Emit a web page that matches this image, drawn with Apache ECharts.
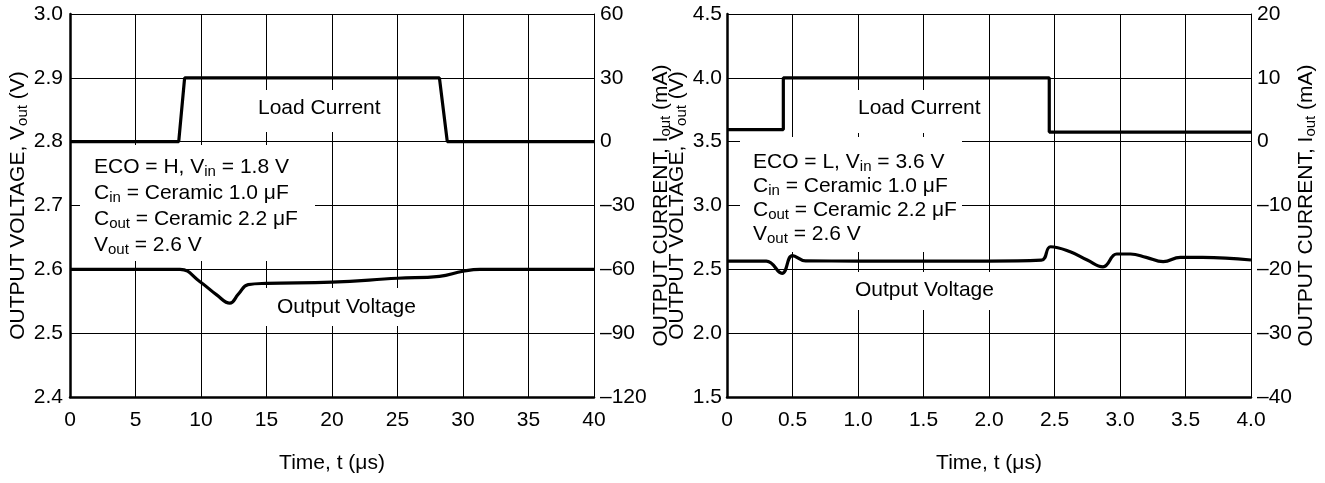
<!DOCTYPE html>
<html><head><meta charset="utf-8">
<script src="https://cdn.jsdelivr.net/npm/echarts@6/dist/echarts.min.js"></script>
<style>html,body{margin:0;padding:0;background:#fff}#c{width:1325px;height:483px}</style>
</head><body><div id="c"></div>
<script>
// ---------- data ----------
const leftTimeTicks  = ['0','5','10','15','20','25','30','35','40'];
const leftVoltTicks  = ['2.4','2.5','2.6','2.7','2.8','2.9','3.0'];
const leftCurrTicks  = ['\u2013120','\u201390','\u201360','\u201330','0','30','60'];
const rightTimeTicks = ['0','0.5','1.0','1.5','2.0','2.5','3.0','3.5','4.0'];
const rightVoltTicks = ['1.5','2.0','2.5','3.0','3.5','4.0','4.5'];
const rightCurrTicks = ['\u201340','\u201330','\u201320','\u201310','0','10','20'];

// left panel: ECO = H
const leftCurrT = [0, 8.3, 8.75, 28.2, 28.8, 40];
const leftCurrV = [0, 0, 30, 30, 0, 0];
const leftVoltT = [0, 5, 8.4, 9.9, 11.2, 12.2, 12.85, 13.6, 15, 20, 25, 28.2, 30, 31.3, 35, 40];
const leftVoltV = [2.6, 2.6, 2.6, 2.581, 2.56, 2.547, 2.561, 2.576, 2.578, 2.58, 2.586, 2.589, 2.597, 2.6, 2.6, 2.6];

// right panel: ECO = L
const rightCurrT = [0, 0.43, 0.43, 2.46, 2.46, 4.0];
const rightCurrV = [1.9, 1.9, 10, 10, 1.5, 1.5];
const rightVoltT = [0, 0.3, 0.42, 0.5, 0.6, 1.0, 2.0, 2.4, 2.47, 2.62, 2.75, 2.87, 2.975, 3.08, 3.2, 3.33, 3.46, 3.63, 4.0];
const rightVoltV = [2.565, 2.565, 2.469, 2.607, 2.566, 2.565, 2.565, 2.572, 2.677, 2.638, 2.573, 2.52, 2.62, 2.62, 2.594, 2.56, 2.594, 2.594, 2.573];

// ---------- chart ----------
const FF = '"Liberation Sans", Arial, Helvetica, sans-serif';
const FS = 21;
const pair = (xs, ys) => xs.map((x, i) => [x, ys[i]]);
const fromTicks = (arr, min, step) => v => arr[Math.round((v - min) / step)] ?? '';

const richBase = (lh) => ({
  n: {fontFamily: FF, fontSize: FS, color: '#000', lineHeight: lh},
  s: {fontFamily: FF, fontSize: 15, color: '#000', padding: [9, 0, 0, 0]}
});

const chart = echarts.init(document.getElementById('c'), null, {renderer: 'canvas'});

const grids = [
  {left: 70, top: 14, width: 524, height: 383},
  {left: 727, top: 14, width: 524, height: 383}
];

function xAxis(gi, min, max, step, ticks) {
  return {
    type: 'value', gridIndex: gi, min, max, interval: step,
    axisLine: {show: true, onZero: false, lineStyle: {color: '#000', width: 2.5}},
    axisTick: {show: false},
    axisLabel: {color: '#000', fontFamily: FF, fontSize: FS, margin: 13, formatter: fromTicks(ticks, min, step)},
    splitLine: {show: true, lineStyle: {color: '#000', width: 1}},
    name: '{n|Time, t (\u03bcs)}', nameLocation: 'middle', nameGap: 54,
    nameTextStyle: {rich: richBase(24)}
  };
}
function yAxis(gi, pos, min, max, step, ticks, name, gap, margin, thick) {
  return {
    type: 'value', gridIndex: gi, position: pos, min, max, interval: step,
    axisLine: {show: true, onZero: false, lineStyle: {color: '#000', width: thick ? 2.5 : 1}},
    axisTick: {show: false},
    axisLabel: {color: '#000', fontFamily: FF, fontSize: FS, margin, formatter: fromTicks(ticks, min, step)},
    splitLine: {show: pos === 'left', lineStyle: {color: '#000', width: 1}},
    name, nameLocation: 'middle', nameRotate: 90, nameGap: gap,
    nameTextStyle: {rich: richBase(24)}
  };
}

const voltName = '{n|OUTPUT VOLTAGE, V}{s|out}{n| (V)}';
const currName = '{n|OUTPUT CURRENT, I}{s|out}{n| (mA)}';

function box(x, y, w, h) {
  return {type: 'rect', z: 1, shape: {x, y, width: w, height: h}, style: {fill: '#fff'}, silent: true};
}
function txt(x, y, text, lh) {
  return {type: 'text', z: 5, x, y, silent: true,
    style: {text, rich: richBase(lh), fontFamily: FF, fontSize: FS, fill: '#000', verticalAlign: 'top', align: 'left'}};
}

const smoothLine = {showSymbol: false, smooth: 0.45, lineStyle: {color: '#000', width: 3.2}, z: 3};
const stepLine = {showSymbol: false, lineStyle: {color: '#000', width: 3.2}, z: 3};

chart.setOption({
  animation: false,
  backgroundColor: '#fff',
  grid: grids,
  xAxis: [
    xAxis(0, 0, 40, 5, leftTimeTicks),
    xAxis(1, 0, 4, 0.5, rightTimeTicks)
  ],
  yAxis: [
    yAxis(0, 'left', 2.4, 3.0, 0.1, leftVoltTicks, voltName, 38, 7, true),
    yAxis(0, 'right', -120, 60, 30, leftCurrTicks, currName, 44, 6, false),
    yAxis(1, 'left', 1.5, 4.5, 0.5, rightVoltTicks, voltName, 24, 5, true),
    yAxis(1, 'right', -40, 20, 10, rightCurrTicks, currName, 40, 6, false)
  ],
  series: [
    Object.assign({type: 'line', xAxisIndex: 0, yAxisIndex: 1, data: pair(leftCurrT, leftCurrV)}, stepLine),
    Object.assign({type: 'line', xAxisIndex: 0, yAxisIndex: 0, data: pair(leftVoltT, leftVoltV)}, smoothLine),
    Object.assign({type: 'line', xAxisIndex: 1, yAxisIndex: 3, data: pair(rightCurrT, rightCurrV)}, stepLine),
    Object.assign({type: 'line', xAxisIndex: 1, yAxisIndex: 2, data: pair(rightVoltT, rightVoltV)}, smoothLine)
  ],
  graphic: [
    box(80, 145, 235, 116),
    box(250, 90, 140, 42),
    box(262, 288, 158, 38),
    box(740, 137, 222, 115),
    box(850, 90, 130, 43),
    box(845, 272, 155, 38),
    txt(94, 154, '{n|ECO = H, V}{s|in}{n| = 1.8 V}\n{n|C}{s|in}{n| = Ceramic 1.0 \u03bcF}\n{n|C}{s|out}{n| = Ceramic 2.2 \u03bcF}\n{n|V}{s|out}{n| = 2.6 V}', 26),
    txt(258, 95, '{n|Load Current}', 26),
    txt(277, 294, '{n|Output Voltage}', 26),
    txt(753, 150, '{n|ECO = L, V}{s|in}{n| = 3.6 V}\n{n|C}{s|in}{n| = Ceramic 1.0 \u03bcF}\n{n|C}{s|out}{n| = Ceramic 2.2 \u03bcF}\n{n|V}{s|out}{n| = 2.6 V}', 23.5),
    txt(858, 95, '{n|Load Current}', 26),
    txt(855, 277, '{n|Output Voltage}', 26)
  ]
});
</script>
</body></html>
